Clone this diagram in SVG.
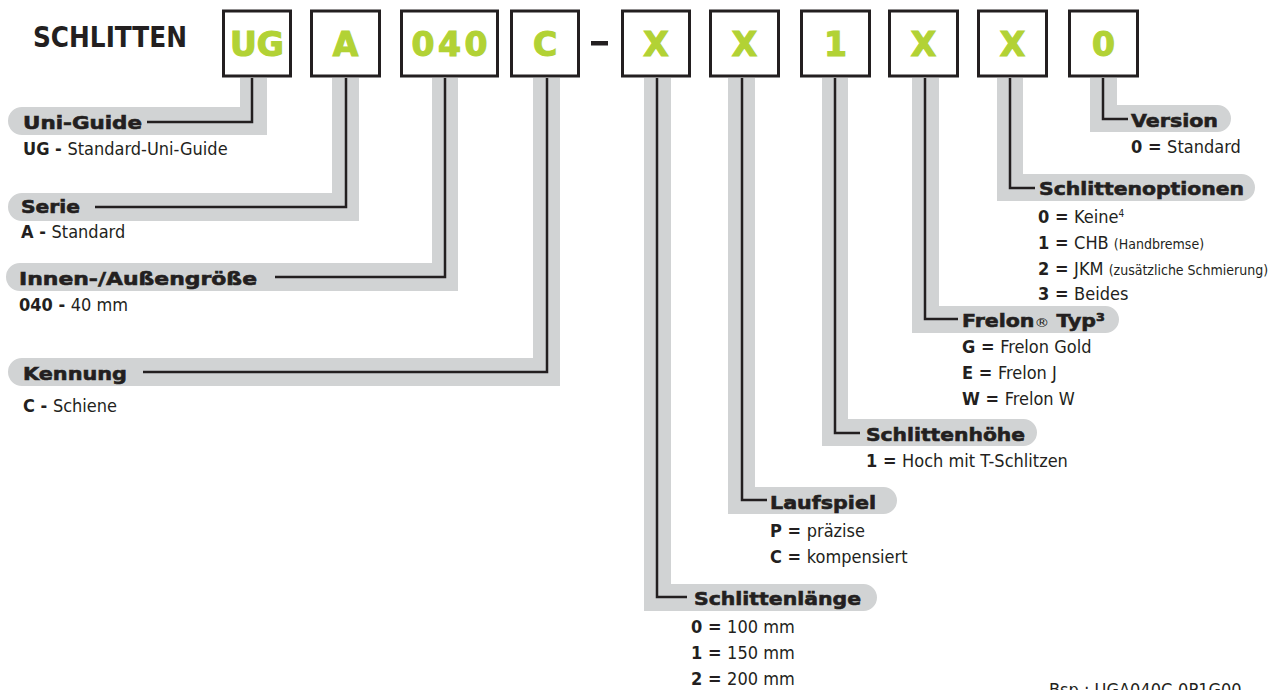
<svg xmlns="http://www.w3.org/2000/svg" width="1283" height="690" viewBox="0 0 1283 690">
<style>
.box{fill:#fff;stroke:#231f20;stroke-width:3}
.code{font-family:"DejaVu Sans",sans-serif;font-weight:bold;font-size:33px;fill:#b2d235;stroke:#b2d235;stroke-width:1.2;text-anchor:middle}
.band{fill:#d1d3d4}
.ln{fill:none;stroke:#231f20;stroke-width:2.5}
.hd{font-family:"DejaVu Sans",sans-serif;font-weight:bold;font-size:18px;fill:#231f20;stroke:#231f20;stroke-width:0.6}
.it{font-family:"Liberation Sans Narrow","DejaVu Sans Condensed","Liberation Sans",sans-serif;font-size:18px;fill:#231f20}
.b{font-weight:bold}
.sm{font-size:14px}
.title{font-family:"DejaVu Sans",sans-serif;font-weight:bold;font-size:29px;fill:#231f20}
</style>
<rect width="1283" height="690" fill="#fff"/>
<text class="title" x="33" y="47" textLength="154" lengthAdjust="spacingAndGlyphs">SCHLITTEN</text>

<g id="connectors">
<path class="band" d="M240,78H267V135H22A14,14 0 0 1 22,107H240Z"/>
<path class="band" d="M332,78H359V221H22A14,14 0 0 1 22,193H332Z"/>
<path class="band" d="M432,78H458V291H20A14,14 0 0 1 20,263H432Z"/>
<path class="band" d="M533,78H560V386H22A14,14 0 0 1 22,358H533Z"/>
<path class="band" d="M644,78H671V584H863.5A13.5,13.5 0 0 1 863.5,611H644Z"/>
<path class="band" d="M728,78H755V487H883.5A13.5,13.5 0 0 1 883.5,514H728Z"/>
<path class="band" d="M822,78H848V419H1023.5A13.5,13.5 0 0 1 1023.5,446H822Z"/>
<path class="band" d="M912,78H939V306H1105.5A13.5,13.5 0 0 1 1105.5,333H912Z"/>
<path class="band" d="M997,78H1023V174H1241.5A13.5,13.5 0 0 1 1241.5,201H997Z"/>
<path class="band" d="M1090,78H1117V105H1217.5A13.5,13.5 0 0 1 1217.5,132H1090Z"/>
<polyline class="ln" points="252,78 252,122 147,122"/>
<polyline class="ln" points="346,78 346,207 95,207"/>
<polyline class="ln" points="445,78 445,277 275,277"/>
<polyline class="ln" points="547,78 547,372 143,372"/>
<polyline class="ln" points="657,78 657,597 687,597"/>
<polyline class="ln" points="742,78 742,500 767,500"/>
<polyline class="ln" points="835,78 835,433 860,433"/>
<polyline class="ln" points="925,78 925,319 958,319"/>
<polyline class="ln" points="1010,78 1010,188 1035,188"/>
<polyline class="ln" points="1103,78 1103,119 1128,119"/>
</g>

<g id="code">
<g id="box-ug"><rect class="box" x="223.5" y="11" width="67" height="65"/><text class="code" x="257" y="56">UG</text></g>
<g id="box-a"><rect class="box" x="311.5" y="11" width="68" height="65"/><text class="code" x="345.5" y="56">A</text></g>
<g id="box-040"><rect class="box" x="401.5" y="11" width="96" height="65"/><text class="code" x="449.5" y="56" textLength="76">040</text></g>
<g id="box-c"><rect class="box" x="511.5" y="11" width="67" height="65"/><text class="code" x="545" y="56">C</text></g>
<rect id="dash" x="591" y="41" width="17" height="4.5" fill="#231f20"/>
<g id="box-x1"><rect class="box" x="622.5" y="11" width="67" height="65"/><text class="code" x="656" y="56">X</text></g>
<g id="box-x2"><rect class="box" x="710.5" y="11" width="68" height="65"/><text class="code" x="744.5" y="56">X</text></g>
<g id="box-1"><rect class="box" x="801.5" y="11" width="68" height="65"/><text class="code" x="835.5" y="56">1</text></g>
<g id="box-x3"><rect class="box" x="889.5" y="11" width="68" height="65"/><text class="code" x="923.5" y="56">X</text></g>
<g id="box-x4"><rect class="box" x="978.5" y="11" width="68" height="65"/><text class="code" x="1012.5" y="56">X</text></g>
<g id="box-0"><rect class="box" x="1069.5" y="11" width="68" height="65"/><text class="code" x="1103.5" y="56">0</text></g>
</g>

<g id="uni-guide">
<text class="hd" x="23" y="129" textLength="119" lengthAdjust="spacingAndGlyphs">Uni-Guide</text>
<text class="it" x="23" y="155"><tspan class="b">UG - </tspan>Standard-Uni-Guide</text>
</g>
<g id="serie">
<text class="hd" x="21" y="213" textLength="59" lengthAdjust="spacingAndGlyphs">Serie</text>
<text class="it" x="21" y="238"><tspan class="b">A - </tspan>Standard</text>
</g>
<g id="groesse">
<text class="hd" x="19" y="285" textLength="238" lengthAdjust="spacingAndGlyphs">Innen-/Außengröße</text>
<text class="it" x="19" y="311"><tspan class="b">040 - </tspan>40 mm</text>
</g>
<g id="kennung">
<text class="hd" x="23" y="380" textLength="104" lengthAdjust="spacingAndGlyphs">Kennung</text>
<text class="it" x="23" y="412"><tspan class="b">C - </tspan>Schiene</text>
</g>
<g id="laenge">
<text class="hd" x="694" y="605" textLength="167" lengthAdjust="spacingAndGlyphs">Schlittenlänge</text>
<text class="it" x="691" y="633"><tspan class="b">0 = </tspan>100 mm</text>
<text class="it" x="691" y="659"><tspan class="b">1 = </tspan>150 mm</text>
<text class="it" x="691" y="685"><tspan class="b">2 = </tspan>200 mm</text>
</g>
<g id="laufspiel">
<text class="hd" x="770" y="509" textLength="106" lengthAdjust="spacingAndGlyphs">Laufspiel</text>
<text class="it" x="770" y="537"><tspan class="b">P = </tspan>präzise</text>
<text class="it" x="770" y="563"><tspan class="b">C = </tspan>kompensiert</text>
</g>
<g id="hoehe">
<text class="hd" x="866" y="441" textLength="159" lengthAdjust="spacingAndGlyphs">Schlittenhöhe</text>
<text class="it" x="866" y="467"><tspan class="b">1 = </tspan>Hoch mit T-Schlitzen</text>
</g>
<g id="frelon">
<text class="hd" x="962" y="327" textLength="143" lengthAdjust="spacingAndGlyphs">Frelon<tspan font-size="13" font-weight="normal" stroke-width="0">®</tspan> Typ³</text>
<text class="it" x="962" y="353"><tspan class="b">G = </tspan>Frelon Gold</text>
<text class="it" x="962" y="379"><tspan class="b">E = </tspan>Frelon J</text>
<text class="it" x="962" y="405"><tspan class="b">W = </tspan>Frelon W</text>
</g>
<g id="optionen">
<text class="hd" x="1039" y="195" textLength="205" lengthAdjust="spacingAndGlyphs">Schlittenoptionen</text>
<text class="it" x="1038" y="223"><tspan class="b">0 = </tspan>Keine<tspan font-size="10" dy="-6">4</tspan></text>
<text class="it" x="1038" y="249"><tspan class="b">1 = </tspan>CHB <tspan class="sm">(Handbremse)</tspan></text>
<text class="it" x="1038" y="275"><tspan class="b">2 = </tspan>JKM <tspan class="sm">(zusätzliche Schmierung)</tspan></text>
<text class="it" x="1038" y="300"><tspan class="b">3 = </tspan>Beides</text>
</g>
<g id="version">
<text class="hd" x="1131" y="127" textLength="87" lengthAdjust="spacingAndGlyphs">Version</text>
<text class="it" x="1131" y="153"><tspan class="b">0 = </tspan>Standard</text>
</g>
<text class="it" x="1049" y="696">Bsp.: UGA040C-0P1G00</text>
</svg>
